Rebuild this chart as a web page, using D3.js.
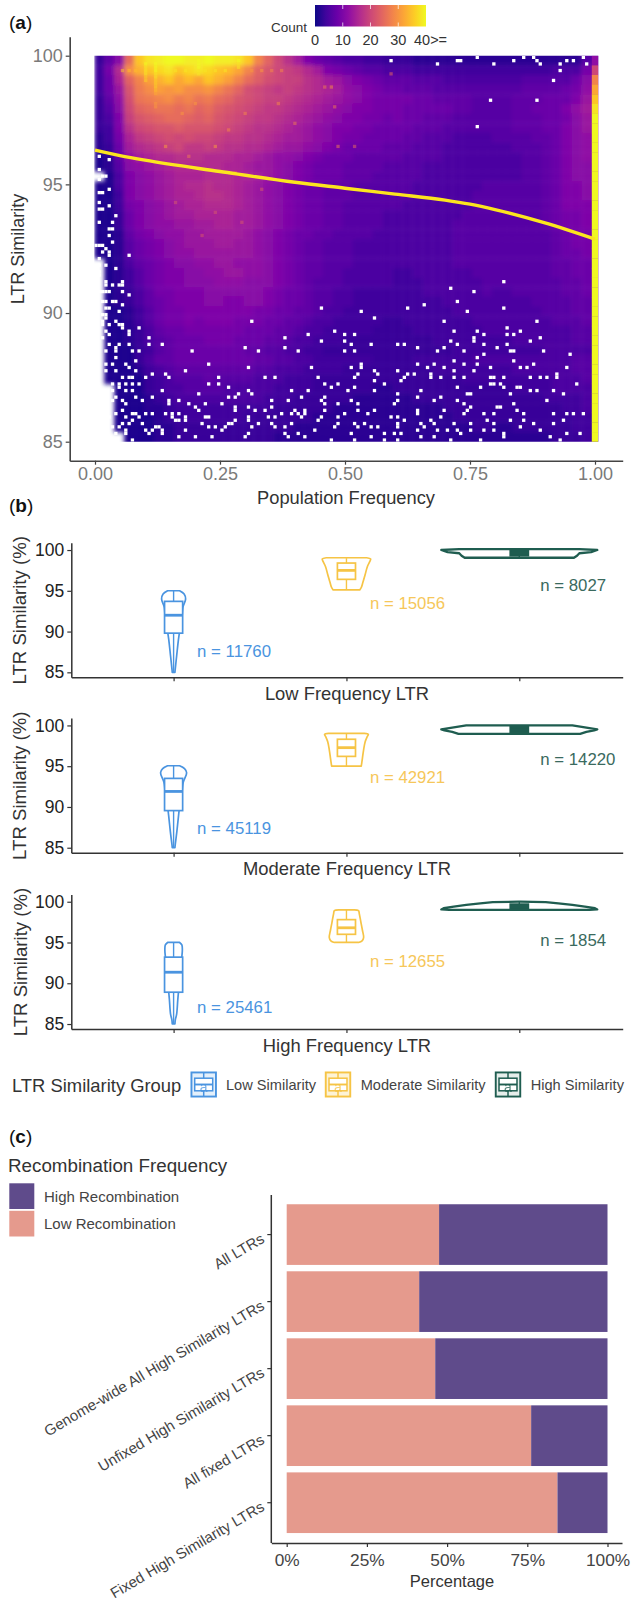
<!DOCTYPE html>
<html><head><meta charset="utf-8">
<script src="https://cdnjs.cloudflare.com/ajax/libs/d3/7.8.5/d3.min.js"></script>
<style>
html,body{margin:0;padding:0;background:#fff}
svg{display:block;font-family:"Liberation Sans",Arial,sans-serif}
</style></head><body><svg id="c" width="633" height="1601"></svg>
<script>
// ---------- panel (a): binned counts (coarse cells; top row first, "-" = no LTRs)
const countAlphabet = "0123456789abcdefghijklmnopqrstuvwxyzABCDE";
const heatRows = [
"37bpzCDEED DEDDCzsokh ea87655443 3322222222 2222222226",
"49gtxzBCzB CBzywsomkj igea987665 5544444444 4444445559",
"48fosvxzwy wzxvspnlkj jhgedba987 7766655555 555666668b",
"48dmrtvuvt tusqolkjij ihgfecba98 8777666666 666777789c",
"37clqrstrs qrpomlkjji hgfedcba99 9988777766 66777888ad",
"36bkopqqpq opnmlkjiih gfedcbaa99 9888887766 6677888ace",
"35ajmnoppo nomlkjiihg fedcbaa998 9887776666 66777889bd",
"34ahklmmnm mmlkjihhgf edcbaa9988 8877766666 6677788abd",
"249fijklkl kkjiihhgfe edcba99888 8776665555 6666778abc",
"238eghijki ijihhggfed dcba988887 7766655555 5566678abc",
"127cefgghh hgggffedcc ba98887777 7666655555 5556678abc",
"126bcdefgg gggffeddcb a988877776 6665555555 5556678abb",
"-15abcdeff fgggffedcb a988877766 6665555555 5556678abb",
"115abcdefg ghggfedcba 9887776666 6655555556 6666678aab",
"114abcdeff ghhgfedcba 9887776666 6655555566 6666678aab",
"1149abcdef fgggfedcba 9887766666 6555555566 6666678aaa",
"1138abcdee ffffeedcba 9887766665 5555555666 666667899a",
"1138abccdd eeffeedcba 9887766665 5555556666 666667899a",
"11279abccd deeeedcba9 8877666655 5555556666 6666667899",
"112689abcd ddeeddcba9 8776665555 5555556666 6666667899",
"112689abcc ddddddcba9 8776665555 5555556666 6666667889",
"-125789abb ccddcccba9 8776665555 5555556666 6666667788",
"-124689aab bccddccba9 8776655555 4455555566 6666667788",
"-124689aab bbcccbbba9 8766655555 4445555556 6666666778",
"-1235799aa abbbbbba98 8766554444 4445555556 5566666778",
"-1235789aa abbaabba98 8766554444 4444455555 5555666677",
"-11246899a aaaaaa9988 7765544444 4444445555 5555566677",
"-11246899a 9aaa999887 7655444443 3444444455 5555556667",
"-112357889 9999988877 6554444433 3344444445 5555555566",
"-112356788 8999888776 5544433333 3333444444 4455555566",
"-111346788 8888877665 5443333333 3333334444 4444455555",
"-111357788 8888887766 5544444433 3344444455 5555555566",
"-111245677 7777776655 5444433333 3333444444 4455555566",
"-111134566 6766665554 4433333333 3333333444 4444445556",
"--11134556 6665555544 4433333322 3333333333 3344445555",
"--11123455 5555555444 3333332222 2233333333 3333344445",
"--11122344 4444444433 3333222222 2222233333 3333333445",
"--11112334 4444433333 3322222222 2222223333 3333333344",
"--11112233 3333333333 2222222222 2222222233 2233333344",
"---1112233 3333333322 2222222222 2222222222 2222223334"
];
const edgeCounts = [12,20,28,32,35,38,40,40,40,40,40,40,40,40,40,40,40,40,40,40,40,40,40,40,40,40,40,40,40,40,40,40,40,40,40,40,40,40,40,40];
// single bright fine bins [col,row,count]
const hotBins = [[18,2,40],[18,3,40],[18,4,40],[18,5,38],[18,6,38],[18,7,36],[18,8,36],[18,9,36],[18,10,34],[18,11,32],[18,14,30],[15,2,40],[15,3,38],[15,4,38],[15,5,38],[15,6,36],[15,7,36],[31,1,40],[31,2,40],[31,3,40],[31,4,38],[31,5,38],[43,1,40],[43,2,38],[43,3,38],[8,4,34],[10,4,34],[12,4,34],[21,4,38],[24,4,38],[27,4,38],[33,4,38],[36,4,38],[39,4,38],[47,4,30],[50,4,30],[53,4,28],[56,4,28],[18,15,30],[36,27,30],[21,27,30],[73,27,26],[78,27,24],[72,15,26],[71,9,28],[69,9,26],[89,5,24],[30,14,30],[26,17,30],[45,17,28],[55,14,28],[60,20,26],[40,22,28],[28,30,26],[42,35,24],[50,40,22],[24,44,22],[36,47,22],[32,54,22],[44,50,22]];
// empty fine bins, per row: [row, col, col, ...]
const emptyBins = [
[0,115,129,132,147],[1,89,109,110,126,133,142,144],[2,103,120,134,140,148],[4,140],[7,138],[13,119,133],[21,115],
[30,1],[31,4],[34,1],[36,2,3],[37,1],[40,4],[41,1,2],[44,1],[45,4],[46,1,2],[48,6],[50,1,5],[52,4,5],[54,4],[56,5],[57,0,1,2],[58,3],[59,2,4],[60,4,10],[61,1],[63,1,3],[64,6],[65,1],[66,1],
[68,3,8,123],[69,0,3,5,7,8],[70,107],[71,0,1,2,3,4,8,114],[72,10],[74,2,3,5,6,109],[75,8,99],[76,3,4,68,94,123],[77,7,80,112],[78,2,3],[79,3,84],[80,2,6,47,105,133],[81,2,4,7,8],[82,8,13,124],
[83,3,10,72,108,115,128],[84,4,10,64,75,78,117,124,126],[85,2,16,57,114,134],[86,68,75,107,114,131],[87,4,7,10,16,20,77,83,91,93,109,117,124],[88,6,45,57,97,105,121],[89,3,6,11,13,29,49,61,75,78,103,111,125,126,135],[90,117,143],[91,6,115],[92,12,108,126],[93,3,5,9,34,80,97,102,111,115,132],[94,10,46,65,77,80,100,105,119,128,130,142],[95,3,6,12,27,84,91,108,114],[96,17,21,79,85,94,96,101,139],
[97,8,10,11,15,22,37,51,54,67,78,93,101,104,108,111,119,120,123,131,134,136,139],[98,84,92],[99,5,7,9,11,13,34,37,69,73,87,119,120,122,145],[100,7,40,71,78,109,116,123,127,128],[101,5,9,11,20,46,59,64,76,84,98,131,133,138],[102,31,43,47,91,112,113,125,141],[103,6,12,17,40,42,62,69,97,104],[104,5,8,14,22,25,53,58,68,77,91,102,109,136],[105,9,22,28,33,38,69,73,79,90,111,126],[106,30,42,46,53,113,121,122],[107,8,31,42,48,51,60,63,69,79,84,97,105,112,127],[108,6,11,12,15,17,21,23,25,56,59,61,63,75,82,97,111,117,120,129,138,142,144,147],[109,4,9,13,23,27,33,34,46,52,54,62,68,73,89,91,104],[110,3,11,24,25,27,42,46,67,93,101,118,125,129,141],[111,8,10,14,32,40,41,49,53,59,73,78,81,91,98,102,108,113,120,132,138],[112,5,7,18,19,34,36,39,47,54,57,72,79,83,85,91,99,128],[113,9,15,17,20,27,38,66,97,103,106,109,113,117,120,134],[114,6,9,16,20,46,57,61,77,87,90,92,110,123,142,146],[115,25,30,35,45,58,63,83,98,102,123,137],[116,11,71,78,87,91,107,116,140]
];
const lineFreq = [0,0.05,0.1,0.25,0.4,0.5,0.6,0.7,0.75,0.8,0.9,1];
const lineSim  = [96.33,96.12,95.94,95.5,95.08,94.85,94.62,94.39,94.23,94.02,93.5,92.87];
const freqTicks = [0,0.25,0.5,0.75,1];
const simTicks = [85,90,95,100];
const colorTicks = [10,20,30];

// ---------- panel (b)
const groups = ["Low Similarity","Moderate Similarity","High Similarity"];
const groupColors = ["#4A94E0","#F6C445","#1F5D50"];
const nTextColors = ["#4A94E0","#F6C75A","#3A6A5E"];
const freqTitles = ["Low Frequency LTR","Moderate Frequency LTR","High Frequency LTR"];
// violin outlines: similarity level and density (percent of widest violin)
const violinLevels = [
 [[85,85.3,87,89,90,91,92,93,94,94.6,95],[85,85.3,87,89,90,91,92,93,94.2,94.7,95.05],[85,85.5,86.2,88,89,90,91.5,93,94,94.7,95]],
 [[95.1,95.4,96,97,98,98.6,98.9,99.05],[95,95.3,96,97,98,98.6,98.9,99.03],[95,95.2,95.6,96.5,97.5,98.5,98.9,99]],
 [[99.05,99.3,99.6,99.75,100,100.1],[98.95,99.2,99.4,99.5,99.8,100],[99,99.05,99.2,99.4,99.6,99.8,99.95,100]]
];
const violinDensity = [
 [[1.7,2,3.9,6.2,7.7,9.6,11,12,15.4,13.5,7.7],[1.7,2,4.2,6.4,7.7,9.6,11,12.3,16.7,14,7.7],[1.7,2.2,3.9,5.4,6.4,8,9.6,10.3,11.2,10.6,7.7]],
 [[17,19,21,24,27,30,31,26],[19,19.5,20.5,22,24,26.5,28,23],[15.4,20,22,20.5,18.5,16.5,15.5,10]],
 [[70,74,77,92,100,77],[78,86,96,100,82,68],[90,100,97,84,68,50,34,0.5]]
];
const boxQ1 = [[89.8,89.55,88.9],[96.4,96.2,96.0],[99.3,99.15,99.0]];
const boxMed = [[92,91.9,91.35],[97.5,97.27,96.8],[99.6,99.5,99.3]];
const boxQ3 = [[93.7,93.5,93.2],[98.4,98.3,97.8],[100,99.9,99.7]];
const wMin = [[85,85,85],[95.2,95,95],[99.1,99,99]];
const wMax = [[95,95.05,95],[99,99.03,99],[100,100,100]];
const nLabels = [[11760,45119,25461],[15056,42921,12655],[8027,14220,1854]];
const nY = [[87.6,87.35,87],[93.4,93.6,92.7],[95.6,95.8,95.2]];
const bSimTicks = [85,90,95,100];

// ---------- panel (c)
const barCategories = ["All LTRs","Genome-wide All High Similarity LTRs","Unfixed High Similarity LTRs","All fixed LTRs","Fixed High Similarity LTRs"];
const lowRecomb = [47.5,41.3,46.3,76.2,84.4];
const recombNames = ["High Recombination","Low Recombination"];
const recombColors = ["#5F4B8B","#E59A8D"];
const pctTicks = [0,25,50,75,100];

const svg = d3.select("#c");
const defs = svg.append("defs");
const text = (g,x,y,s,o={})=>{const t=g.append("text").attr("x",x).attr("y",y).attr("font-size",o.size||17).attr("fill",o.fill||"#333").attr("text-anchor",o.anchor||"start").attr("dominant-baseline","central").text(s);if(o.rot!==undefined)t.attr("transform",`rotate(${o.rot} ${x} ${y})`);return t;};
const styleAxis=(g,col,w,fs,tc)=>{g.selectAll(".domain").attr("stroke",col).attr("stroke-width",w);g.selectAll(".tick line").attr("stroke",col).attr("stroke-width",1.2);g.selectAll(".tick text").attr("fill",tc).attr("font-size",fs).attr("font-family",'"Liberation Sans",Arial,sans-serif');};
const panelLabel=(l,y)=>{const t=svg.append("text").attr("x",9).attr("y",y).attr("font-size",19).attr("fill","#111").attr("dominant-baseline","central");t.append("tspan").text("(");t.append("tspan").attr("font-weight","bold").text(l);t.append("tspan").text(")");};

// ===== PANEL A
panelLabel("a",22);panelLabel("b",505);panelLabel("c",1136);
const xA = d3.scaleLinear().domain([0,1]).range([95,595]);
const yA = d3.scaleLinear().domain([85,100]).range([441.7,55.7]);
const colorA = d3.scaleSequential(d3.interpolatePlasma).domain([0,40]);
const clean = heatRows.map(r=>r.replace(/ /g,""));
const nc = 50, nr = clean.length;
const xCell = d3.scaleLinear().domain([0,nc]).range([-0.0014,0.9926]);
const yCell = d3.scaleLinear().domain([0,nr]).range([100,85]);
const cells=[];
clean.forEach((row,r)=>[...row].forEach((ch,c)=>{const v=countAlphabet.indexOf(ch);if(v>=0)cells.push({r,c,v});}));
defs.append("clipPath").attr("id","clipA").append("rect").attr("x",xA(-0.0014)).attr("y",yA(100)).attr("width",xA(1.0066)-xA(-0.0014)).attr("height",yA(85)-yA(100));
defs.append("filter").attr("id","soft").attr("x","-5%").attr("y","-5%").attr("width","110%").attr("height","110%").append("feGaussianBlur").attr("stdDeviation",2.2);
const clipG = svg.append("g").attr("clip-path","url(#clipA)");
clipG.append("g").attr("filter","url(#soft)").selectAll("rect").data(cells).join("rect")
 .attr("x",d=>xA(xCell(d.c))).attr("y",d=>yA(yCell(d.r))-(d.r===0?14:0))
 .attr("width",d=>xA(xCell(d.c+1))-xA(xCell(d.c))+(d.c===nc-1?14:0.4))
 .attr("height",d=>yA(yCell(d.r+1))-yA(yCell(d.r))+(d.r===0?14:0)+(d.r===nr-1?14:0.4))
 .attr("fill",d=>colorA(d.v));
// fine bins
const xBin = d3.scaleLinear().domain([0,152]).range([-0.0014,1.0066]);
const yBin = d3.scaleLinear().domain([0,117]).range([100,85]);
const binRect = (sel)=>sel.attr("x",d=>xA(xBin(d[0]))).attr("y",d=>yA(yBin(d[1]))).attr("width",xA(xBin(1))-xA(xBin(0))).attr("height",yA(yBin(1))-yA(yBin(0)));
clipG.append("g").selectAll("rect").data(hotBins).join("rect").call(binRect).attr("fill",d=>colorA(d[2])).attr("opacity",.55);
const emptyList=[];emptyBins.forEach(a=>a.slice(1).forEach(c=>emptyList.push([c,a[0]])));
clipG.append("g").selectAll("rect").data(emptyList).join("rect").call(binRect).attr("fill","#fff");
// frequency 1.0 strip
const yEdge = d3.scaleLinear().domain([0,edgeCounts.length]).range([100,85]);
clipG.append("g").selectAll("rect").data(edgeCounts).join("rect").attr("x",xA(0.9936)).attr("width",xA(1.0066)-xA(0.9936))
 .attr("y",(d,i)=>yA(yEdge(i))).attr("height",(d,i)=>yA(yEdge(i+1))-yA(yEdge(i))+0.3).attr("fill",d=>colorA(d));
// trend
const lineA=d3.line().x(d=>xA(d[0])).y(d=>yA(d[1])).curve(d3.curveMonotoneX);
svg.append("path").attr("d",lineA(lineFreq.map((f,i)=>[f,lineSim[i]]))).attr("fill","none").attr("stroke","#FCE51E").attr("stroke-width",3.4);
// axes
const yAxisScaleA = d3.scaleLinear().domain([85-(460.7-441.7)/25.73,100+(55.7-36.7)/25.73]).range([460.7,36.7]);
const axL=svg.append("g").attr("transform","translate(69.7,0)").call(d3.axisLeft(yAxisScaleA).tickValues(simTicks).tickSize(4).tickSizeOuter(0));
styleAxis(axL,"#444",1.6,18,"#7a7a7a");
const xAxisScaleA = d3.scaleLinear().domain([(69.7-95)/500,(622.7-95)/500]).range([69.7,622.7]);
const axB=svg.append("g").attr("transform","translate(0,460.7)").call(d3.axisBottom(xAxisScaleA).tickValues(freqTicks).tickFormat(d3.format(".2f")).tickSize(4).tickSizeOuter(0));
styleAxis(axB,"#444",1.6,18,"#7a7a7a");
text(svg,346,497.5,"Population Frequency",{size:18.3,anchor:"middle",fill:"#333"});
text(svg,18,249,"LTR Similarity",{size:18,anchor:"middle",rot:-90,fill:"#333"});
// colour bar
const gradId="plasmaBar";
const grad=defs.append("linearGradient").attr("id",gradId);
d3.range(0,1.001,0.1).forEach(t=>grad.append("stop").attr("offset",t).attr("stop-color",d3.interpolatePlasma(t)));
const xBar=d3.scaleLinear().domain([0,40]).range([315,426]);
svg.append("rect").attr("x",xBar(0)).attr("y",5).attr("width",xBar(40)-xBar(0)).attr("height",21.5).attr("fill",`url(#${gradId})`);
colorTicks.forEach(v=>{[[5,9],[22.5,26.5]].forEach(s=>svg.append("line").attr("x1",xBar(v)).attr("x2",xBar(v)).attr("y1",s[0]).attr("y2",s[1]).attr("stroke","#fff").attr("opacity",.7));});
text(svg,271,27.5,"Count",{size:13.5,fill:"#333"});
text(svg,xBar(0),39.5,"0",{size:14.5,anchor:"middle"});
colorTicks.forEach(v=>text(svg,xBar(v),39.5,String(v),{size:14.5,anchor:"middle"}));
text(svg,414,39.5,"40>=",{size:14.5});

// ===== PANEL B
const panelAxisY=[677.3,852.7,1029];
const xB=d3.scalePoint().domain(groups).range([173.6,519.3]);
const widthB=d3.scaleLinear().domain([0,100]).range([0,78]);
const xOuter=d3.scaleLinear().domain([71.3,622.7]).range([71.3,622.7]);
panelAxisY.forEach((ay,p)=>{
 const yB=d3.scaleLinear().domain([85,100]).range([ay-5,ay-127.3]);
 const yExt=d3.scaleLinear().domain([84.39,100.9]).range([ay,ay-134.6]);
 const g=svg.append("g");
 const lft=g.append("g").attr("transform","translate(71.3,0)").call(d3.axisLeft(yExt).tickValues(bSimTicks).tickSize(4).tickSizeOuter(0));
 styleAxis(lft,"#333",1.5,17.5,"#222");
 const bot=g.append("g").attr("transform",`translate(0,${ay})`).call(d3.axisBottom(xOuter).tickValues(xB.domain().map(xB)).tickFormat("").tickSize(4).tickSizeOuter(0));
 styleAxis(bot,"#333",1.5,17,"#222");
 text(g,347,ay+16.2,freqTitles[p],{size:18.4,anchor:"middle",fill:"#333"});
 text(g,20,ay-67,"LTR Similarity (%)",{size:18.6,anchor:"middle",rot:-90,fill:"#333"});
 groups.forEach((gr,k)=>{
  const cx=xB(gr),col=groupColors[k];
  const lv=violinLevels[k][p],dn=violinDensity[k][p];
  const pts=lv.map((s,i)=>[s,dn[i]]);
  const area=d3.area().y(d=>yB(d[0])).x0(d=>cx-widthB(d[1])).x1(d=>cx+widthB(d[1])).curve(k===2?d3.curveLinear:d3.curveCatmullRom);
  g.append("path").attr("d",area(pts)+"").attr("fill","#fff").attr("stroke",col).attr("stroke-width",k===2?2.3:1.7).attr("stroke-linejoin","round");
  const hw=widthB(11.6);
  g.append("line").attr("x1",cx).attr("x2",cx).attr("y1",yB(wMin[k][p])).attr("y2",yB(wMax[k][p])).attr("stroke",col).attr("stroke-width",1.4);
  g.append("rect").attr("x",cx-hw).attr("width",2*hw).attr("y",yB(boxQ3[k][p])).attr("height",yB(boxQ1[k][p])-yB(boxQ3[k][p])).attr("fill",k===2?col:"#fff").attr("stroke",col).attr("stroke-width",1.7);
  g.append("line").attr("x1",cx-hw).attr("x2",cx+hw).attr("y1",yB(boxMed[k][p])).attr("y2",yB(boxMed[k][p])).attr("stroke",col).attr("stroke-width",2.8);
  const lx=cx+(k===2?21:23.5);
  text(g,lx,yB(nY[k][p]),`n = ${nLabels[k][p]}`,{size:16.8,fill:nTextColors[k]});
 });
});
// legend
text(svg,12,1085,"LTR Similarity Group",{size:18.4,fill:"#333"});
const legX=[190.7,325,495],legT=[226,360.7,530.7];
groups.forEach((gr,k)=>{
 const col=groupColors[k],g=svg.append("g").attr("transform",`translate(${legX[k]},1071.7)`);
 const s=26,bh=25.6;
 g.append("rect").attr("x",.75).attr("y",.75).attr("width",s-1.5).attr("height",bh-1.5).attr("fill",k===2?"#e6eeeb":(k===0?"#e4f0fb":"#fdf3d6")).attr("stroke",col).attr("stroke-width",1.9);
 g.append("rect").attr("x",4).attr("y",6.5).attr("width",s-8).attr("height",bh-13).attr("fill","#fff").attr("stroke",col).attr("stroke-width",1.5);
 g.append("line").attr("x1",4).attr("x2",s-4).attr("y1",bh/2).attr("y2",bh/2).attr("stroke",col).attr("stroke-width",1.9);
 g.append("line").attr("x1",s/2).attr("x2",s/2).attr("y1",1).attr("y2",6.5).attr("stroke",col).attr("stroke-width",1.5);
 g.append("line").attr("x1",s/2).attr("x2",s/2).attr("y1",bh-6.5).attr("y2",bh-1).attr("stroke",col).attr("stroke-width",1.5);
 text(g,s/2,bh/2+2.5,"a",{size:14,anchor:"middle",fill:col}).attr("opacity",.75);
 text(svg,legT[k],1085,gr,{size:14.6,fill:"#444"});
});

// ===== PANEL C
const xC=d3.scaleLinear().domain([0,100]).range([286.7,607.5]);
const yC=d3.scaleBand().domain(barCategories).range([1200.9,1536.4]).paddingInner(0.095).paddingOuter(0.05);
const gC=svg.append("g");
barCategories.forEach((c,i)=>{
 gC.append("rect").attr("x",xC(0)).attr("y",yC(c)).attr("width",xC(lowRecomb[i])-xC(0)).attr("height",yC.bandwidth()).attr("fill",recombColors[1]);
 gC.append("rect").attr("x",xC(lowRecomb[i])).attr("y",yC(c)).attr("width",xC(100)-xC(lowRecomb[i])).attr("height",yC.bandwidth()).attr("fill",recombColors[0]);
});
const axCL=svg.append("g").attr("transform","translate(271.3,0)");
axCL.append("line").attr("y1",1195).attr("y2",1543).attr("stroke","#333").attr("stroke-width",1.5);
barCategories.forEach(c=>{const ty=yC(c)+yC.bandwidth()/2;
 axCL.append("line").attr("x1",-4).attr("x2",0).attr("y1",ty).attr("y2",ty).attr("stroke","#333").attr("stroke-width",1.2);
 svg.append("text").attr("transform",`translate(265.5,${ty+7}) rotate(-30.5)`).attr("text-anchor","end").attr("font-size",15).attr("fill","#444").text(c);
});
const xAxC=d3.scaleLinear().domain([(271.3-286.7)/3.208,(622-286.7)/3.208]).range([271.3,622]);
const axCB=svg.append("g").attr("transform","translate(0,1543)").call(d3.axisBottom(xAxC).tickValues(pctTicks).tickFormat(d=>d+"%").tickSize(4).tickSizeOuter(0).tickPadding(7));
styleAxis(axCB,"#333",1.5,17.3,"#444");
text(svg,452,1580.5,"Percentage",{size:16.5,anchor:"middle",fill:"#333"});
text(svg,8,1165,"Recombination Frequency",{size:18.8,fill:"#333"});
recombNames.forEach((n,i)=>{
 const y=1183.3+i*27.5;
 svg.append("rect").attr("x",9.3).attr("y",y).attr("width",25).attr("height",25.7).attr("fill",recombColors[i]);
 text(svg,44,y+13,n,{size:15,fill:"#444"});
});
</script></body></html>
